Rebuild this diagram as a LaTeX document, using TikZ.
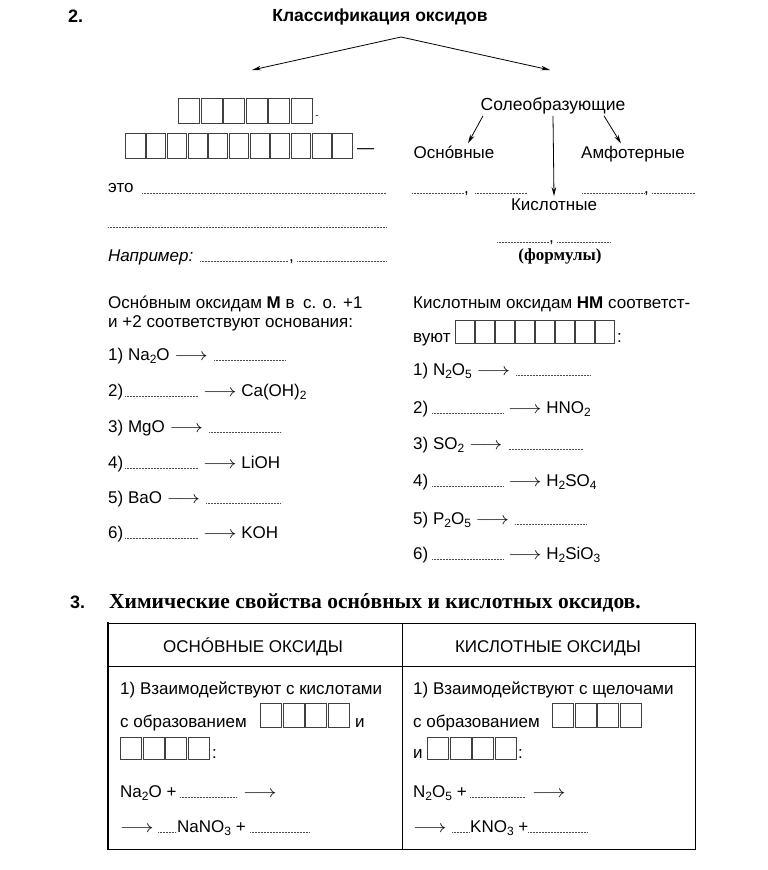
\documentclass[tikz,border=0pt]{standalone}
\usepackage{fontspec}
\setmainfont{Liberation Sans}
\newfontfamily\serifcyr{Liberation Serif}
\usepackage{graphicx}
\usetikzlibrary{arrows.meta,positioning}

\newcommand{\yields}{\scalebox{1.2}[1]{$\longrightarrow$}}
\newcommand{\chemsub}[1]{\raisebox{-3.5pt}{\fontsize{12}{14}\selectfont#1}}
\newcommand{\boxrow}[5]{\foreach \i in {1,...,#3}{\draw[cellbox] ({#1+(\i-1)*#4+0.8},#2) rectangle ({#1+\i*#4-0.8},{#2+#5});}}
\newcommand{\blank}[3]{\draw[blank] (#1,#3) -- (#2,#3);}

\begin{document}
\begin{tikzpicture}[x=1pt,y=-1pt,font=\fontsize{17}{20}\selectfont,
  txt/.style={anchor=base west,inner sep=0pt},
  ctxt/.style={anchor=base,inner sep=0pt},
  treenode/.style={anchor=base,inner sep=2pt},
  tree/.style={line width=0.8pt,-{Stealth[length=9pt,width=4.5pt]}},
  cellbox/.style={draw=black!75,line width=0.7pt},
  blank/.style={draw=black!70,line width=0.5pt,dash pattern=on 0.6pt off 0.9pt},
  rule/.style={line width=1pt}]
\useasboundingbox (0,0) rectangle (768,870);

\node[txt,font=\bfseries\fontsize{18}{21}\selectfont] (num2) at (68,22) {2.};
\node[ctxt,font=\bfseries\fontsize{17.5}{21}\selectfont] (title) at (380,21) {Классификация оксидов};
\coordinate (apex) at (401,37);
\coordinate (leftend) at (252,70);
\coordinate (rightend) at (550,70);
\draw[tree] (apex) -- (leftend);
\draw[tree] (apex) -- (rightend);

\boxrow{178}{98}{6}{22.5}{25}
\node[font=\fontsize{10}{12}\selectfont,inner sep=0pt] (hyph) at (317,117) {-};
\boxrow{125}{133}{11}{20.7}{25}
\node[anchor=west,inner sep=0pt] (dash) at (357,151) {—};
\node[txt] (eto) at (108,192) {это};
\blank{142}{386}{193}
\blank{108}{386}{227}
\node[txt,font=\itshape\fontsize{17}{20}\selectfont] (example) at (108,261) {Например:};
\blank{200}{288}{261}
\node[txt] (comma1) at (289,261) {,};
\blank{297}{386}{261}

\node[treenode,font=\fontsize{17.5}{21}\selectfont] (saltforming) at (553,110) {Солеобразующие};
\node[treenode] (basic) at (454,158) {Оснóвные};
\node[treenode] (amphoteric) at (633,158) {Амфотерные};
\node[treenode] (acidic) at (554,210) {Кислотные};
\draw[tree] ([xshift=-70]saltforming.south) -- ([xshift=14]basic.north);
\draw[tree] ([xshift=51]saltforming.south) -- ([xshift=-12]amphoteric.north);
\draw[tree] (saltforming.south) -- (acidic.north);
\blank{412}{464}{193}
\node[txt] (comma2) at (464,193) {,};
\blank{475}{527}{193}
\blank{582}{644}{193}
\node[txt] (comma3) at (644,193) {,};
\blank{652}{695}{193}
\blank{497}{549}{242}
\node[txt] (comma4) at (549,242) {,};
\blank{557}{610}{242}
\node[ctxt,font=\serifcyr\bfseries\fontsize{17}{20}\selectfont] (formulas) at (560,260) {(формулы)};

\node[txt] (basichead) at (108,308) {Оснóвным оксидам \textbf{М} в\enspace с. о. +1};
\node[txt] (basichead2) at (108,327) {и +2 соответствуют основания:};
\node[txt] (b1) at (108,360) {1) Na\chemsub{2}O \yields};
\draw[blank] ([xshift=6]b1.base east) -- ++(72,0);
\node[txt] (b2) at (108,396) {2)};
\blank{125}{198}{396}
\node[txt] (b2r) at (203,396) {\yields\ Ca(OH)\chemsub{2}};
\node[txt] (b3) at (108,432) {3) MgO \yields};
\draw[blank] ([xshift=6]b3.base east) -- ++(72,0);
\node[txt] (b4) at (108,468) {4)};
\blank{125}{198}{468}
\node[txt] (b4r) at (203,468) {\yields\ LiOH};
\node[txt] (b5) at (108,503) {5) BaO \yields};
\draw[blank] ([xshift=6]b5.base east) -- ++(74,0);
\node[txt] (b6) at (108,538) {6)};
\blank{125}{198}{538}
\node[txt] (b6r) at (203,538) {\yields\ KOH};

\node[txt] (acidhead) at (413,308) {Кислотным оксидам \textbf{НМ} соответст-};
\node[txt] (acidhead2) at (413,342) {вуют};
\boxrow{455}{320}{8}{20}{23}
\node[txt] (colon1) at (617,342) {:};
\node[txt] (a1) at (413,375) {1) N\chemsub{2}O\chemsub{5} \yields};
\draw[blank] ([xshift=6]a1.base east) -- ++(74,0);
\node[txt] (a2) at (413,413) {2)};
\blank{432}{503}{413}
\node[txt] (a2r) at (508,413) {\yields\ HNO\chemsub{2}};
\node[txt] (a3) at (413,449) {3) SO\chemsub{2} \yields};
\draw[blank] ([xshift=6]a3.base east) -- ++(74,0);
\node[txt] (a4) at (413,486) {4)};
\blank{432}{503}{486}
\node[txt] (a4r) at (508,486) {\yields\ H\chemsub{2}SO\chemsub{4}};
\node[txt] (a5) at (413,524) {5) P\chemsub{2}O\chemsub{5} \yields};
\draw[blank] ([xshift=6]a5.base east) -- ++(71,0);
\node[txt] (a6) at (413,559) {6)};
\blank{432}{503}{559}
\node[txt] (a6r) at (508,559) {\yields\ H\chemsub{2}SiO\chemsub{3}};

\node[txt,font=\bfseries\fontsize{18}{21}\selectfont] (num3) at (70,608) {3.};
\node[txt,font=\serifcyr\bfseries\fontsize{21.5}{25}\selectfont] (heading3) at (109,608) {Химические свойства оснóвных и кислотных оксидов.};
\draw[rule] (108,623) -- (695,623) -- (695,849) -- (108,849);
\draw[line width=2.5pt] (108,622) -- (108,850);
\draw[rule] (402,623) -- (402,849);
\draw[rule] (108,666) -- (695,666);
\node[ctxt] (basichdr) at (253,652) {ОСНÓВНЫЕ ОКСИДЫ};
\node[ctxt] (acidhdr) at (548,652) {КИСЛОТНЫЕ ОКСИДЫ};

\node[txt] (l1) at (120,694) {1) Взаимодействуют с кислотами};
\node[txt] (l2) at (120,727) {с образованием};
\boxrow{260}{703}{4}{22.5}{24}
\node[txt] (l2i) at (355,727) {и};
\boxrow{120}{737}{4}{22.5}{22}
\node[txt] (l3) at (212,758) {:};
\node[txt] (l4) at (120,797) {Na\chemsub{2}O +};
\blank{180}{237}{797}
\node[txt] (l4a) at (243,797) {\yields};
\node[txt] (l5) at (120,832) {\yields};
\blank{158}{176}{832}
\node[txt] (l5b) at (177,832) {NaNO\chemsub{3} +};
\blank{250}{310}{832}

\node[txt] (r1) at (413,694) {1) Взаимодействуют с щелочами};
\node[txt] (r2) at (413,727) {с образованием};
\boxrow{552}{703}{4}{22.5}{24}
\node[txt] (r3) at (413,758) {и};
\boxrow{427}{737}{4}{22.5}{22}
\node[txt] (r3c) at (518,758) {:};
\node[txt] (r4) at (413,797) {N\chemsub{2}O\chemsub{5} +};
\blank{470}{525}{797}
\node[txt] (r4a) at (532,797) {\yields};
\node[txt] (r5) at (413,832) {\yields};
\blank{452}{469}{832}
\node[txt] (r5b) at (470,832) {KNO\chemsub{3} +};
\blank{528}{587}{832}
\end{tikzpicture}
\end{document}
